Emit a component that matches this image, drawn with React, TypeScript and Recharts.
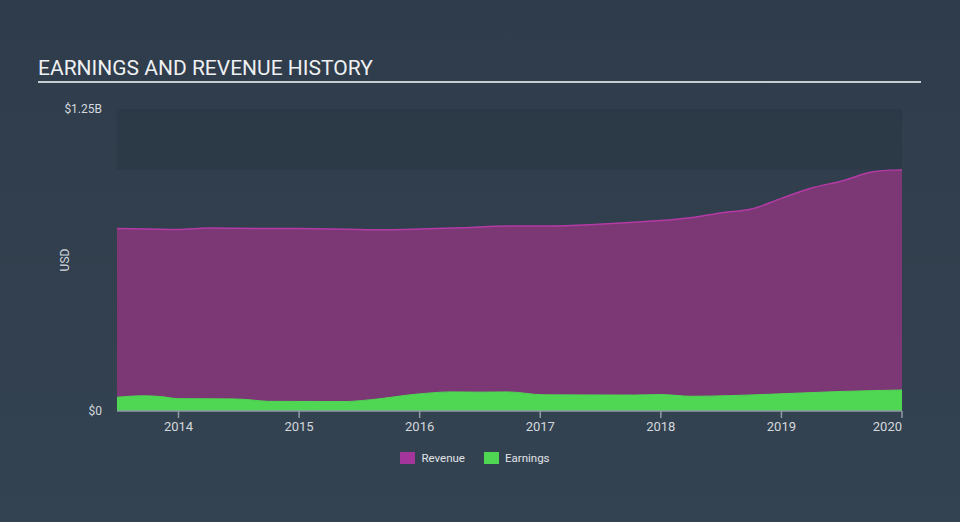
import React from "react";
import {
  ComposedChart,
  Area,
  XAxis,
  YAxis,
  ReferenceArea,
  Legend,
} from "recharts";

// x positions in fractional years, values in USD billions
const revenueYears = [
  2013.49, 2013.75, 2014.0, 2014.25, 2014.5, 2015.0, 2015.5, 2015.68, 2016.0,
  2016.37, 2016.73, 2017.07, 2017.48, 2017.9, 2018.28, 2018.51, 2018.75,
  2019.0, 2019.25, 2019.5, 2019.75, 2019.9, 2020.0,
];
const revenueValues = [
  0.755, 0.753, 0.751, 0.757, 0.756, 0.755, 0.751, 0.75, 0.753, 0.759, 0.766,
  0.766, 0.773, 0.785, 0.802, 0.821, 0.836, 0.88, 0.923, 0.952, 0.989, 0.997,
  0.998,
];

const earningsYears = [
  2013.49, 2013.71, 2013.85, 2014.0, 2014.46, 2014.6, 2014.74, 2015.37, 2015.6,
  2015.98, 2016.26, 2016.5, 2016.73, 2017.03, 2017.78, 2018.0, 2018.25,
  2018.89, 2019.44, 2020.0,
];
const earningsValues = [
  0.057, 0.063, 0.06, 0.051, 0.05, 0.046, 0.04, 0.039, 0.047, 0.07, 0.079,
  0.078, 0.079, 0.067, 0.066, 0.068, 0.061, 0.069, 0.08, 0.087,
];

const xTicks = [2014, 2015, 2016, 2017, 2018, 2019, 2020];
const yTicks = [0, 1.25];
const yTickLabels = ["$0", "$1.25B"];

const seriesNames = ["Revenue", "Earnings"];
const seriesColors = ["#a3359b", "#4fd653"];

type Row = { year: number; revenue?: number; earnings?: number };

function buildData(): Row[] {
  const map = new Map<number, Row>();
  revenueYears.forEach((y, i) => {
    const r = map.get(y) || { year: y };
    r.revenue = revenueValues[i];
    map.set(y, r);
  });
  earningsYears.forEach((y, i) => {
    const r = map.get(y) || { year: y };
    r.earnings = earningsValues[i];
    map.set(y, r);
  });
  return Array.from(map.values()).sort((a, b) => a.year - b.year);
}

const data = buildData();

const XTick = (props: any) => {
  const { x, y, payload } = props;
  const last = payload.value === xTicks[xTicks.length - 1];
  return (
    <text
      x={x}
      y={y}
      dy={10}
      textAnchor={last ? "end" : "middle"}
      fill="#d3d8dd"
      fontSize={13}
      fontFamily="Roboto"
    >
      {payload.value}
    </text>
  );
};

const YTick = (props: any) => {
  const { x, y, payload } = props;
  const idx = yTicks.indexOf(payload.value);
  return (
    <text
      x={x}
      y={y}
      dy={4}
      textAnchor="end"
      fill="#d3d8dd"
      fontSize={12}
      fontFamily="Roboto"
    >
      {yTickLabels[idx]}
    </text>
  );
};

const LegendContent = () => (
  <div
    style={{
      display: "flex",
      justifyContent: "center",
      alignItems: "center",
      gap: 19,
      height: 16,
      fontFamily: "Roboto",
      fontSize: 11.5,
      color: "#e0e4e8",
      paddingRight: 10,
    }}
  >
    {seriesNames.map((n, i) => (
      <div key={n} style={{ display: "flex", alignItems: "center" }}>
        <span
          style={{
            display: "inline-block",
            width: 15,
            height: 12,
            background: seriesColors[i],
            marginRight: 6,
          }}
        />
        {n}
      </div>
    ))}
  </div>
);

export default function App() {
  return (
    <div
      style={{
        position: "fixed",
        left: 0,
        top: 0,
        width: 960,
        height: 522,
        background: "linear-gradient(180deg, #2f3c4b 0%, #344351 100%)",
        overflow: "hidden",
        fontFamily: "Roboto",
      }}
    >
      <div
        style={{
          position: "absolute",
          left: 38,
          top: 56,
          fontSize: 21,
          color: "#eef0f2",
          lineHeight: "24px",
          letterSpacing: 0,
        }}
      >
        EARNINGS AND REVENUE HISTORY
      </div>
      <div
        style={{
          position: "absolute",
          left: 38,
          top: 81,
          width: 883,
          height: 1.5,
          background: "#c9cdd2",
        }}
      />
      <div
        style={{
          position: "absolute",
          left: 65,
          top: 260,
          transform: "translate(-50%, -50%) rotate(-90deg)",
          fontSize: 12,
          color: "#d3d8dd",
        }}
      >
        USD
      </div>
      <div style={{ position: "absolute", left: 0, top: 0 }}>
        <ComposedChart
          width={960}
          height={522}
          data={data}
          margin={{ top: 109, right: 58, bottom: 55, left: 57 }}
        >
          <ReferenceArea
            y1={1.0}
            y2={1.25}
            fill="#1e2a37"
            fillOpacity={0.25}
            stroke="none"
            ifOverflow="visible"
          />
          <XAxis
            dataKey="year"
            type="number"
            domain={[2013.49, 2020]}
            ticks={xTicks}
            tick={<XTick />}
            tickSize={7}
            tickMargin={3}
            axisLine={{ stroke: "#8f9aa6", strokeWidth: 1.5 }}
            tickLine={{ stroke: "#8f9aa6", strokeWidth: 1.5 }}
            allowDataOverflow
            height={40}
          />
          <YAxis
            type="number"
            domain={[0, 1.25]}
            ticks={yTicks}
            tick={<YTick />}
            tickSize={6}
            tickMargin={9}
            axisLine={false}
            tickLine={false}
            width={60}
          />
          <Area
            type="monotone"
            dataKey="revenue"
            name="Revenue"
            stroke="#b43aa6"
            strokeWidth={1.5}
            fill="#7b3874"
            fillOpacity={1}
            connectNulls
            isAnimationActive={false}
            dot={false}
            activeDot={false}
          />
          <Area
            type="monotone"
            dataKey="earnings"
            name="Earnings"
            stroke="#4fd653"
            strokeWidth={1}
            fill="#4fd653"
            fillOpacity={1}
            connectNulls
            isAnimationActive={false}
            dot={false}
            activeDot={false}
          />
          <Legend
            verticalAlign="bottom"
            height={16}
            content={<LegendContent />}
            wrapperStyle={{ left: 0, width: 960, bottom: 56 }}
          />
        </ComposedChart>
      </div>
    </div>
  );
}
